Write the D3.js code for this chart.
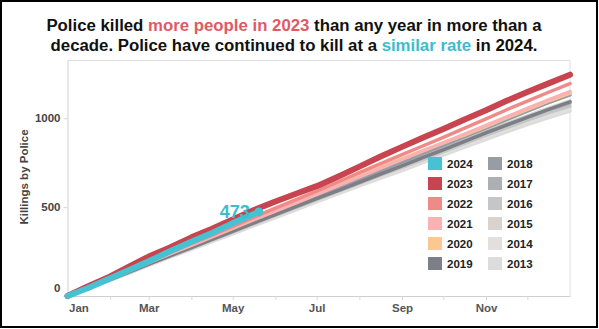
<!DOCTYPE html>
<html lang="en">
<head>
<meta charset="UTF-8">
<title>Killings by Police</title>
<script src="https://cdn.jsdelivr.net/npm/d3@7"></script>
<style>
  body { margin: 0; background: #fff; }
  svg { display: block; font-family: "Liberation Sans", Arial, sans-serif; }
</style>
</head>
<body>
<svg id="chart" width="599" height="329"></svg>
<script>
// day of year for each sample point (1st and mid-month, plus year end)
const sampleDays = [0, 15, 31, 46, 59, 74, 90, 105, 120, 135, 151, 166, 181, 196, 212, 227, 243, 258, 273, 288, 304, 319, 334, 349, 365];

// cumulative killings by police at each sample day
const y2013 = [0, 42, 88, 133, 172, 217, 262, 306, 350, 395, 441, 485, 529, 573, 619, 662, 706, 750, 793, 836, 882, 924, 964, 1003, 1040];
const y2014 = [0, 43, 89, 134, 174, 219, 265, 310, 354, 400, 447, 491, 535, 580, 627, 671, 716, 760, 803, 846, 893, 936, 977, 1015, 1052];
const y2015 = [0, 46, 94, 140, 181, 227, 275, 321, 367, 414, 463, 509, 555, 601, 650, 696, 743, 787, 832, 877, 925, 970, 1013, 1056, 1098];
const y2016 = [0, 44, 92, 137, 178, 223, 270, 315, 359, 405, 453, 497, 542, 587, 634, 679, 724, 768, 813, 857, 905, 948, 990, 1030, 1068];
const y2017 = [0, 45, 93, 140, 181, 227, 274, 320, 366, 412, 460, 505, 551, 597, 645, 690, 737, 782, 826, 871, 920, 965, 1008, 1047, 1086];
const y2018 = [0, 47, 97, 144, 186, 232, 281, 329, 376, 423, 472, 518, 565, 612, 662, 707, 755, 802, 848, 895, 945, 992, 1040, 1086, 1132];
const y2019 = [0, 44, 92, 139, 180, 225, 272, 318, 363, 410, 458, 503, 548, 592, 640, 685, 732, 778, 822, 868, 918, 962, 1005, 1048, 1092];
const y2020 = [0, 48, 100, 147, 190, 238, 287, 335, 386, 437, 489, 538, 586, 634, 681, 726, 773, 818, 862, 905, 955, 1003, 1050, 1096, 1142];
const y2021 = [0, 46, 98, 146, 188, 236, 285, 333, 380, 428, 478, 524, 572, 620, 670, 718, 768, 815, 862, 910, 960, 1008, 1055, 1102, 1150];
const y2022 = [0, 50, 103, 152, 196, 244, 296, 343, 392, 442, 494, 542, 590, 640, 694, 743, 795, 844, 893, 943, 996, 1048, 1096, 1145, 1195];
const y2023 = [0, 55, 110, 170, 222, 272, 330, 378, 430, 482, 532, 575, 618, 670, 728, 783, 839, 890, 940, 992, 1045, 1098, 1148, 1195, 1245];

// 2024 runs only to the latest day reported
const days2024 = [0, 15, 31, 46, 59, 74, 90, 105, 120, 135, 139];
const y2024 = [0, 45, 100, 150, 195, 250, 305, 355, 410, 460, 473];

const years = ["2013", "2014", "2015", "2016", "2017", "2018", "2019", "2020", "2021", "2022", "2023", "2024"];
const yearValues = [y2013, y2014, y2015, y2016, y2017, y2018, y2019, y2020, y2021, y2022, y2023, y2024];
const yearColors = ["#dcdcdc", "#e3dfdc", "#d9d3d0", "#c4c6c7", "#adafb3", "#989ca5", "#7d7f87", "#fbc891", "#f9b1b1", "#f08a88", "#c8444f", "#45c3d3"];

const monthStarts = [0, 31, 59, 90, 120, 151, 181, 212, 243, 273, 304, 334];
const monthNames = ["Jan", "Feb", "Mar", "Apr", "May", "Jun", "Jul", "Aug", "Sep", "Oct", "Nov", "Dec"];
const yTicks = [0, 500, 1000];

const legendCol1 = ["2024", "2023", "2022", "2021", "2020", "2019"];
const legendCol2 = ["2018", "2017", "2016", "2015", "2014", "2013"];

const svg = d3.select("#chart");

const x = d3.scaleLinear().domain([0, 365]).range([67.5, 570]);
const y = d3.scaleLinear().domain([0, 1325]).range([296, 60.5]);
const color = d3.scaleOrdinal().domain(years).range(yearColors);

// outer frame
svg.append("rect")
  .attr("x", 1).attr("y", 1).attr("width", 596).attr("height", 326)
  .attr("fill", "#fff").attr("stroke", "#000").attr("stroke-width", 2);

// title
const title = svg.append("text")
  .attr("text-anchor", "middle")
  .attr("font-size", 16.8)
  .attr("font-weight", "bold")
  .attr("fill", "#111");
const line1 = title.append("tspan").attr("x", 294).attr("y", 31);
line1.append("tspan").text("Police killed ");
line1.append("tspan").attr("fill", "#e05a63").text("more people in 2023");
line1.append("tspan").text(" than any year in more than a");
const line2 = title.append("tspan").attr("x", 294).attr("y", 51);
line2.append("tspan").text("decade. Police have continued to kill at a ");
line2.append("tspan").attr("fill", "#3bbccf").text("similar rate");
line2.append("tspan").text(" in 2024.");

// plot frame (top and right edges)
svg.append("path")
  .attr("d", `M${x(0)},${y.range()[1]}H${x(365)}V${y(0)}`)
  .attr("fill", "none").attr("stroke", "#dedede").attr("stroke-width", 1);

// x axis
const xAxis = svg.append("g")
  .attr("transform", `translate(0,${y(0)})`)
  .call(d3.axisBottom(x)
    .tickValues(monthStarts)
    .tickSize(4)
    .tickSizeOuter(0)
    .tickFormat((d, i) => i % 2 === 0 ? monthNames[i] : ""));
xAxis.select(".domain").attr("stroke", "#cfcfcf");
xAxis.selectAll(".tick line").attr("stroke", "#d6d6d6");
xAxis.selectAll(".tick text")
  .attr("y", 8)
  .attr("font-size", 11.5)
  .attr("font-weight", "bold")
  .attr("font-family", "Liberation Sans, Arial, sans-serif")
  .attr("fill", "#555");
xAxis.selectAll(".tick text").filter(d => d === 0).attr("text-anchor", "start").attr("dx", 1);

// y axis
const yAxis = svg.append("g")
  .attr("transform", `translate(${x(0)},0)`)
  .call(d3.axisLeft(y)
    .tickValues(yTicks)
    .tickSize(4)
    .tickSizeOuter(0)
    .tickPadding(3)
    .tickFormat(d3.format("d")));
yAxis.select(".domain").attr("stroke", "#cfcfcf");
yAxis.selectAll(".tick line").attr("stroke", "#d6d6d6");
yAxis.selectAll(".tick text")
  .attr("font-size", 11.5)
  .attr("font-weight", "bold")
  .attr("font-family", "Liberation Sans, Arial, sans-serif")
  .attr("fill", "#444");
yAxis.selectAll(".tick text").filter(d => d === 0).attr("dy", "-0.4em");

svg.append("text")
  .attr("transform", `translate(28,177) rotate(-90)`)
  .attr("text-anchor", "middle")
  .attr("font-size", 11.5)
  .attr("font-weight", "bold")
  .attr("fill", "#444")
  .text("Killings by Police");

// year lines
const line = d3.line()
  .x(d => x(d[0]))
  .y(d => y(d[1]));

const series = years.map((yr, i) => {
  const days = yr === "2024" ? days2024 : sampleDays;
  return { year: yr, points: yearValues[i].map((v, j) => [days[j], v]) };
});

svg.append("g")
  .selectAll("path")
  .data(series)
  .join("path")
  .attr("d", d => line(d.points))
  .attr("fill", "none")
  .attr("stroke", d => color(d.year))
  .attr("stroke-width", d => (d.year === "2023" || d.year === "2024") ? 6 : 3.5)
  .attr("stroke-linejoin", "round")
  .attr("stroke-linecap", "round");

// latest 2024 value
const last = series[series.length - 1].points.slice(-1)[0];
svg.append("circle")
  .attr("cx", x(last[0]))
  .attr("cy", y(last[1]))
  .attr("r", 4.5)
  .attr("fill", color("2024"));
svg.append("text")
  .attr("x", x(last[0]) - 9)
  .attr("y", y(last[1]) + 6)
  .attr("text-anchor", "end")
  .attr("font-size", 18)
  .attr("font-weight", "bold")
  .attr("fill", "#3bbccf")
  .text(last[1]);

// legend
const legend = svg.append("g").attr("font-size", 11.5).attr("font-weight", "bold").attr("fill", "#222");
[[legendCol1, 428], [legendCol2, 488]].forEach(([items, lx]) => {
  items.forEach((yr, i) => {
    const ly = 157 + i * 20;
    legend.append("rect")
      .attr("x", lx).attr("y", ly)
      .attr("width", 14).attr("height", 13)
      .attr("fill", color(yr));
    legend.append("text")
      .attr("x", lx + 19).attr("y", ly + 11)
      .text(yr);
  });
});
</script>
</body>
</html>
